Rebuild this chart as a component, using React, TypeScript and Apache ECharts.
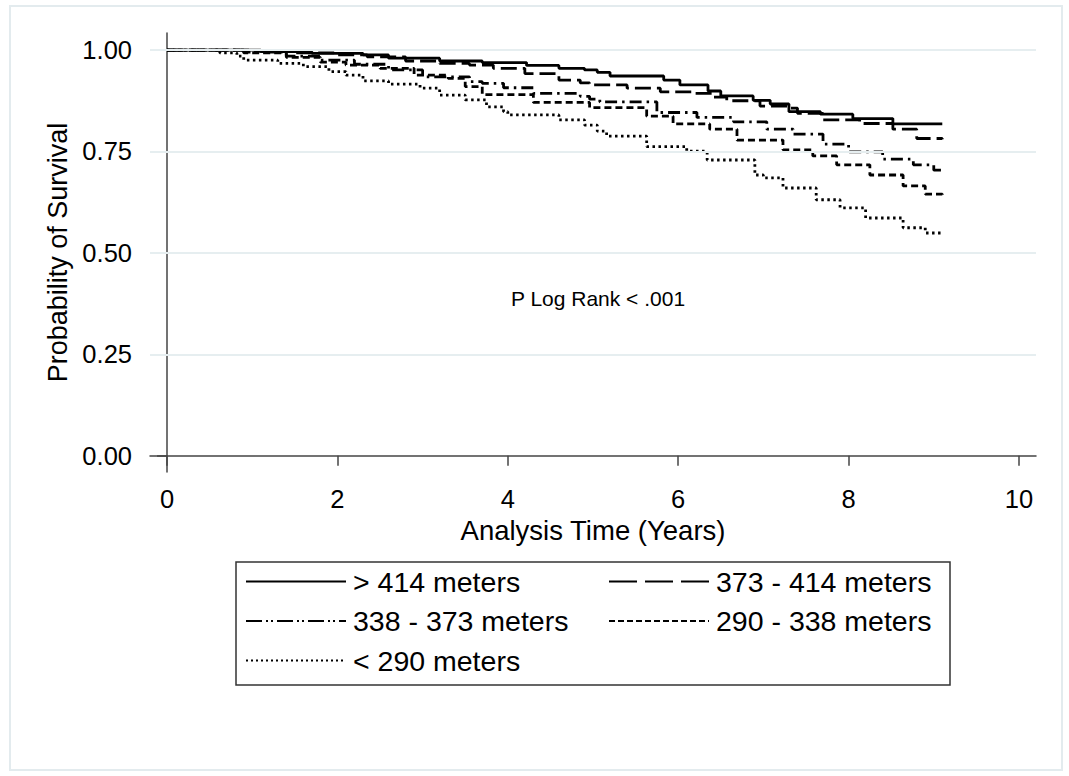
import React, { useEffect, useRef } from "react";
import * as echarts from "echarts";

// ---- Data ----
const groupNames = ["> 414 meters", "373 - 414 meters", "338 - 373 meters", "290 - 338 meters", "< 290 meters"];

const timeG1 = [0, 1.1, 1.7, 2.3, 2.6, 3.2, 3.7, 4.22, 4.6, 4.9, 5.05, 5.2, 5.83, 6.02, 6.35, 6.5, 6.88, 7.08, 7.3, 7.67, 8.05, 8.52, 9.1];
const survG1 = [1, 0.996, 0.992, 0.988, 0.98, 0.973, 0.969, 0.962, 0.955, 0.951, 0.945, 0.936, 0.926, 0.914, 0.899, 0.887, 0.876, 0.867, 0.848, 0.842, 0.831, 0.818, 0.818];

const timeG2 = [0, 1.0, 1.5, 2.0, 2.35, 2.8, 3.2, 3.55, 3.83, 4.2, 4.6, 4.85, 4.96, 5.4, 5.79, 6.2, 6.4, 6.57, 6.96, 7.3, 7.4, 7.7, 8.13, 8.52, 8.8, 9.1];
const survG2 = [1, 0.997, 0.993, 0.988, 0.983, 0.973, 0.967, 0.963, 0.955, 0.942, 0.926, 0.919, 0.914, 0.906, 0.897, 0.893, 0.884, 0.875, 0.862, 0.857, 0.844, 0.828, 0.819, 0.805, 0.782, 0.78];

const timeG3 = [0, 0.9, 1.4, 1.8, 2.2, 2.6, 3.0, 3.55, 3.7, 3.95, 4.3, 4.85, 4.96, 5.08, 5.75, 6.22, 6.65, 7.04, 7.35, 7.7, 8.0, 8.4, 8.76, 9.0, 9.1];
const survG3 = [1, 0.995, 0.985, 0.975, 0.965, 0.951, 0.934, 0.922, 0.918, 0.907, 0.893, 0.886, 0.879, 0.872, 0.846, 0.834, 0.823, 0.805, 0.793, 0.768, 0.749, 0.731, 0.717, 0.704, 0.7];

const timeG4 = [0, 0.9, 1.4, 1.8, 2.1, 2.5, 2.9, 3.3, 3.5, 3.7, 4.3, 4.96, 5.63, 5.94, 6.37, 6.69, 7.23, 7.58, 7.86, 8.25, 8.64, 8.9, 9.1];
const survG4 = [1, 0.993, 0.982, 0.97, 0.963, 0.955, 0.938, 0.93, 0.91, 0.89, 0.871, 0.858, 0.837, 0.818, 0.805, 0.778, 0.754, 0.739, 0.717, 0.692, 0.665, 0.645, 0.643];

const timeG5 = [0, 0.62, 0.82, 0.9, 1.3, 1.6, 1.9, 2.1, 2.3, 2.6, 2.97, 3.2, 3.5, 3.75, 3.95, 4.0, 4.6, 4.9, 5.05, 5.16, 5.63, 6.1, 6.34, 6.9, 7.0, 7.23, 7.62, 7.9, 8.2, 8.64, 8.9, 9.1];
const survG5 = [1, 0.993, 0.985, 0.975, 0.967, 0.959, 0.947, 0.938, 0.924, 0.916, 0.906, 0.889, 0.877, 0.86, 0.848, 0.84, 0.828, 0.815, 0.8, 0.788, 0.762, 0.751, 0.729, 0.692, 0.685, 0.66, 0.631, 0.611, 0.586, 0.562, 0.549, 0.547];

const xTicks = [0, 2, 4, 6, 8, 10];
const yTicks = [0, 0.25, 0.5, 0.75, 1];
const gridValues = [0.25, 0.5, 0.75, 1];
const annotation = "P Log Rank < .001";

const FONT = "'Liberation Sans', Arial, Helvetica, sans-serif";

const plotDash = [
  "solid",
  [16, 6],
  [12, 5, 2.5, 5],
  [7, 4],
  [2.5, 3.5],
];
const legendDash = [
  "solid",
  [28, 8],
  [16, 4, 2, 3, 2, 4],
  [6, 3],
  [2, 3],
];

const times = [timeG1, timeG2, timeG3, timeG4, timeG5];
const survs = [survG1, survG2, survG3, survG4, survG5];

export default function App() {
  const ref = useRef<HTMLDivElement>(null);

  useEffect(() => {
    if (!ref.current) return;
    const chart = echarts.init(ref.current, null, { renderer: "svg" });

    const lineSeries = groupNames.map((name, gi) => ({
      name,
      type: "line",
      step: "end",
      symbol: "none",
      silent: true,
      z: 3,
      data: times[gi].map((t, i) => [t, survs[gi][i]]),
      lineStyle: { color: "#000", width: 2.8, type: plotDash[gi] as any, cap: "butt" },
      itemStyle: { color: "#000" },
    }));

    const legendItem = (gi: number) => ({
      name: groupNames[gi],
      lineStyle: { type: legendDash[gi] as any, width: 2, color: "#000" },
      itemStyle: { opacity: 0, color: "rgba(0,0,0,0)", borderWidth: 0 },
    });

    const legendCommon = {
      orient: "vertical",
      top: 567,
      itemWidth: 100,
      itemHeight: 14,
      itemGap: 10.5,
      padding: 0,
      selectedMode: false,
      lineStyle: { width: 2 },
      itemStyle: { opacity: 0, color: "rgba(0,0,0,0)", borderWidth: 0 },
      textStyle: { fontSize: 28.5, color: "#000", fontFamily: FONT, lineHeight: 27, padding: [0, 0, 0, 2] },
    };

    chart.setOption({
      animation: false,
      backgroundColor: "#fff",
      grid: { left: 150, right: 33, top: 33, bottom: 304 },
      xAxis: {
        type: "value",
        min: -0.2,
        max: 10.2,
        name: "Analysis Time (Years)",
        nameLocation: "middle",
        nameGap: 42,
        nameTextStyle: { fontSize: 27.5, color: "#000", fontFamily: FONT },
        axisLine: { show: true, lineStyle: { color: "#444", width: 1.5 } },
        axisTick: { show: true, length: 10, customValues: xTicks, lineStyle: { color: "#444", width: 1.5 } },
        axisLabel: { customValues: xTicks, fontSize: 25.5, color: "#000", fontFamily: FONT, margin: 14 },
        splitLine: { show: false },
      },
      yAxis: {
        type: "value",
        min: -0.04,
        max: 1.042,
        name: "Probability of Survival",
        nameLocation: "middle",
        nameGap: 79,
        nameTextStyle: { fontSize: 27, color: "#000", fontFamily: FONT },
        axisLine: { show: true, lineStyle: { color: "#444", width: 1.5 } },
        axisTick: { show: true, length: 10, customValues: yTicks, lineStyle: { color: "#444", width: 1.5 } },
        axisLabel: {
          customValues: yTicks,
          fontSize: 25.5,
          color: "#000",
          fontFamily: FONT,
          margin: 18,
          formatter: (v: number) => v.toFixed(2),
        },
        splitLine: { show: false },
      },
      legend: [
        { ...legendCommon, left: 245, data: [legendItem(0), legendItem(2), legendItem(4)] },
        { ...legendCommon, left: 608, data: [legendItem(1), legendItem(3)] },
      ],
      series: [
        {
          name: "grid",
          type: "line",
          data: [],
          z: 1,
          silent: true,
          markLine: {
            silent: true,
            symbol: "none",
            label: { show: false },
            lineStyle: { color: "#e6eef0", width: 2, type: "solid" },
            data: gridValues.map((v) => ({ yAxis: v })),
          },
        },
        ...lineSeries,
      ],
      graphic: [
        {
          type: "rect",
          shape: { x: 10, y: 6, width: 1052, height: 764 },
          style: { fill: "none", stroke: "#e3ebee", lineWidth: 2 },
          silent: true,
        },
        {
          type: "rect",
          shape: { x: 236, y: 562, width: 714, height: 123 },
          style: { fill: "none", stroke: "#333", lineWidth: 1.5 },
          silent: true,
        },
        {
          type: "text",
          x: 598,
          y: 298,
          style: {
            text: annotation,
            fontSize: 21,
            fontFamily: FONT,
            fill: "#000",
            align: "center",
            verticalAlign: "middle",
          },
          silent: true,
        },
      ],
    });

    return () => chart.dispose();
  }, []);

  return (
    <div
      ref={ref}
      style={{ position: "absolute", left: 0, top: 0, width: 1069, height: 776, background: "#fff" }}
    />
  );
}
